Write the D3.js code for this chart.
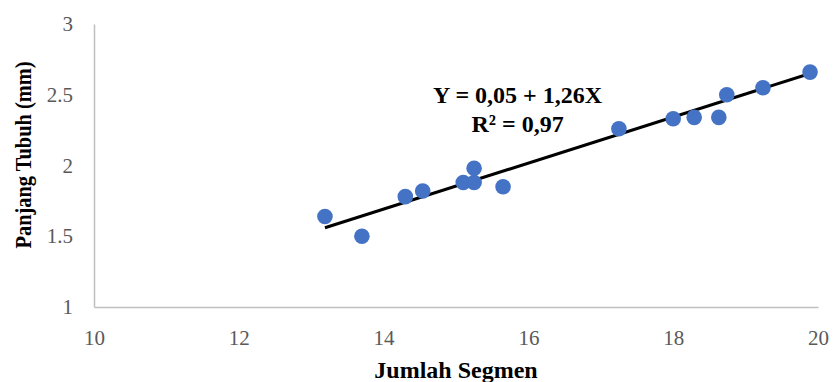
<!DOCTYPE html>
<html>
<head>
<meta charset="utf-8">
<script src="https://cdn.jsdelivr.net/npm/d3@7"></script>
<style>
  body { margin: 0; background: #fff; }
  svg { display: block; }
</style>
</head>
<body>
<div class="chart"></div>
<script>
// data
var segmen = [13.19, 13.70, 14.30, 14.54, 15.10, 15.25, 15.25, 15.65, 17.25, 18.00, 18.29, 18.63, 18.74, 19.24, 19.89];
var panjang = [1.64, 1.50, 1.78, 1.82, 1.88, 1.88, 1.98, 1.85, 2.26, 2.33, 2.34, 2.34, 2.50, 2.55, 2.66];
// trend line ends
var trendX = [13.19, 19.89];
var trendY = [1.56, 2.65];
var xTicks = [10, 12, 14, 16, 18, 20];
var yTicks = [1, 1.5, 2, 2.5, 3];
var eqLines = ["Y = 0,05 + 1,26X", "R\u00b2 = 0,97"];

var W = 833, H = 382;
var margin = { top: 24, right: 15, bottom: 75, left: 94 },
    width = W - margin.left - margin.right,
    height = H - margin.top - margin.bottom;

var font = "'Liberation Serif', 'Times New Roman', serif";

var x = d3.scaleLinear().domain([10, 20]).range([0, width]);
var y = d3.scaleLinear().domain([1, 3]).range([height, 0]);

var svg = d3.select(".chart").append("svg")
    .attr("width", W)
    .attr("height", H)
    .append("g")
    .attr("transform", "translate(" + margin.left + "," + margin.top + ")");

var xAxis = d3.axisBottom(x).tickValues(xTicks).tickSize(0).tickPadding(23).tickFormat(d3.format("d"));
var yAxis = d3.axisLeft(y).tickValues(yTicks).tickSize(0).tickPadding(21).tickFormat(function(d) { return String(d); });

var gx = svg.append("g")
    .attr("transform", "translate(0," + height + ")")
    .call(xAxis);
var gy = svg.append("g").call(yAxis);

[gx, gy].forEach(function(g) {
    g.select(".domain").attr("stroke", "#bfbfbf").attr("stroke-width", 1.5);
    g.selectAll("text")
        .attr("fill", "#595959")
        .style("font-family", font)
        .style("font-size", "21px");
});

// trend line
var pts = trendX.map(function(v, i) { return [v, trendY[i]]; });
svg.append("path")
    .datum(pts)
    .attr("d", d3.line().x(function(d) { return x(d[0]); }).y(function(d) { return y(d[1]); }))
    .attr("stroke", "#000")
    .attr("stroke-width", 3)
    .attr("fill", "none");

// dots
svg.selectAll(".dot")
    .data(segmen.map(function(v, i) { return { x: v, y: panjang[i] }; }))
    .enter().append("circle")
    .attr("class", "dot")
    .attr("cx", function(d) { return x(d.x); })
    .attr("cy", function(d) { return y(d.y); })
    .attr("r", 7.8)
    .attr("fill", "#4472c4");

// equation
svg.append("text")
    .attr("x", x(15.85))
    .attr("y", y(2.44))
    .attr("text-anchor", "middle")
    .style("font-family", font)
    .style("font-weight", "bold")
    .style("font-size", "24px")
    .selectAll("tspan")
    .data(eqLines)
    .enter().append("tspan")
    .attr("x", x(15.85))
    .attr("dy", function(d, i) { return i ? 29 : 0; })
    .text(function(d) { return d; });

// axis titles
svg.append("text")
    .attr("x", width / 2)
    .attr("y", height + 71)
    .attr("text-anchor", "middle")
    .style("font-family", font)
    .style("font-weight", "bold")
    .style("font-size", "24px")
    .text("Jumlah Segmen");

svg.append("text")
    .attr("transform", "translate(" + (-63) + "," + (height / 2 - 10.5) + ") rotate(-90)")
    .attr("text-anchor", "middle")
    .attr("textLength", 187)
    .attr("lengthAdjust", "spacingAndGlyphs")
    .style("font-family", font)
    .style("font-weight", "bold")
    .style("font-size", "24px")
    .text("Panjang Tubuh (mm)");
</script>
</body>
</html>
